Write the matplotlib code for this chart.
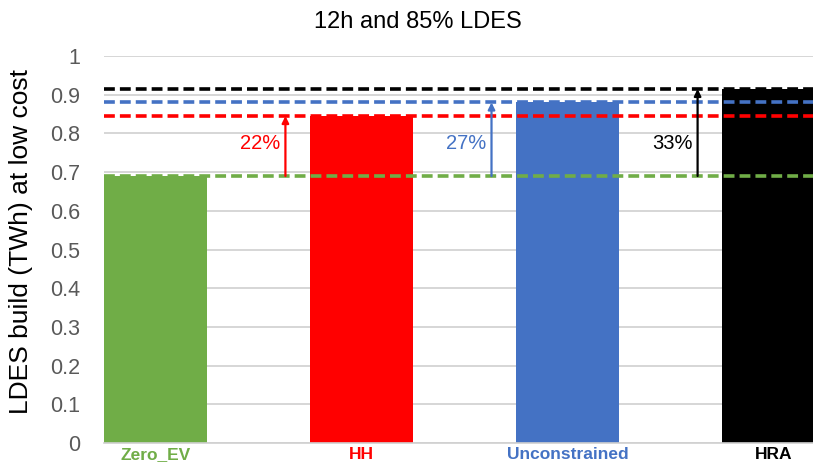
import matplotlib.pyplot as plt
import numpy as np

plt.rcParams['font.family'] = ['Liberation Sans', 'DejaVu Sans']

# LDES build per scenario (TWh)
scenarios = ['Zero_EV', 'HH', 'Unconstrained', 'HRA']
ldes_build = [0.69, 0.845, 0.88, 0.915]
colours = ['#70AD47', '#FF0000', '#4472C4', '#000000']
pct_labels = ['22%', '27%', '33%']
yticks = [0, 0.1, 0.2, 0.3, 0.4, 0.5, 0.6, 0.7, 0.8, 0.9, 1]

fig = plt.figure(figsize=(8.13, 4.63), dpi=100)
ax = fig.add_axes([0.128, 0.043, 0.872, 0.836])

x = np.arange(len(scenarios))
ax.bar(x, ldes_build, width=0.5, color=colours, zorder=2)

# horizontal dashed reference lines at each bar height
for val, c in zip(ldes_build, colours):
    ax.axhline(val, color=c, lw=2.6, ls=(0, (3, 1.4)), zorder=3)

# arrows from the baseline up to each scenario, with the increase in %
base = ldes_build[0]
for i, (val, c, lab) in enumerate(zip(ldes_build[1:], colours[1:], pct_labels)):
    xa = i + 0.63
    ax.annotate('', xy=(xa, val), xytext=(xa, base),
                arrowprops=dict(arrowstyle='-|>', color=c, lw=1.6,
                                mutation_scale=10, shrinkA=0, shrinkB=0),
                zorder=4)
    ax.text(xa - 0.025, 0.775, lab, color=c, fontsize=14.5, ha='right', va='center')

ax.set_xlim(-0.25, 3.19)
ax.set_ylim(0, 1)
ax.set_yticks(yticks)
ax.set_yticklabels([f'{t:g}' for t in yticks], fontsize=15.5, color='#595959')
ax.yaxis.grid(True, color='#D0D0D0', lw=1.2, zorder=0)
ax.set_axisbelow(True)
ax.tick_params(axis='y', length=0, pad=17)
ax.tick_params(axis='x', length=0, pad=3)

ax.set_xticks(x)
ax.set_xticklabels(scenarios, fontsize=12.5, fontweight='bold')
for lbl, c in zip(ax.get_xticklabels(), colours):
    lbl.set_color(c)

for side in ['left', 'right', 'top']:
    ax.spines[side].set_visible(False)
ax.spines['bottom'].set_color('#D0D0D0')
ax.spines['bottom'].set_linewidth(1.2)

ax.set_ylabel('LDES build (TWh) at low cost', fontsize=19)
ax.yaxis.set_label_coords(-0.1, 0.52)
fig.text(0.514, 0.9395, '12h and 85% LDES', fontsize=17, ha='center', va='baseline')

fig.savefig('out.png', dpi=100)
